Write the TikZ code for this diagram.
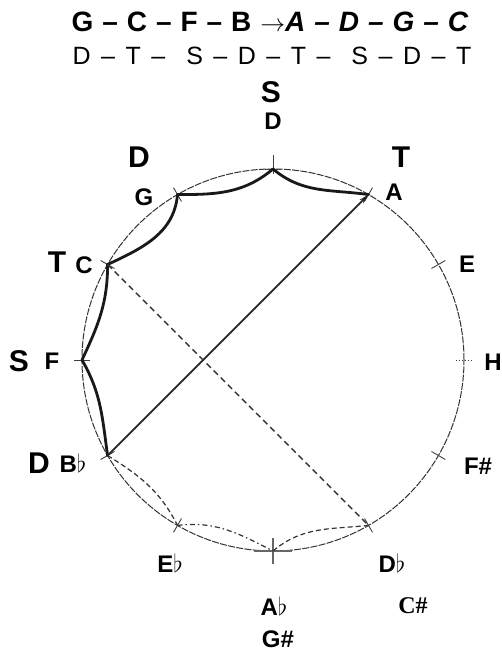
\documentclass[tikz,border=0pt]{standalone}
\usepackage{fontspec}
\setmainfont{Liberation Sans}
\newfontfamily\serifb{Liberation Serif}
\usetikzlibrary{arrows.meta,calc}
\tikzset{
  lbl/.style={font=\bfseries\fontsize{24}{24}\selectfont, inner sep=0pt},
  big/.style={font=\bfseries\fontsize{30}{30}\selectfont, inner sep=0pt},
  arcline/.style={line width=2.8pt, black!90, line cap=round},
  circ/.style={line width=1pt, black!80, dash pattern=on 7pt off 1.3pt},
  tick/.style={line width=0.9pt, black!75},
  dline/.style={line width=1.3pt, black!80, dash pattern=on 6pt off 4pt},
  dcurve/.style={line width=1.2pt, black!80, dash pattern=on 5pt off 3pt},
  ddcurve/.style={line width=1.2pt, black!80, dash pattern=on 5pt off 3pt on 1.5pt off 3pt},
}
\begin{document}
\begin{tikzpicture}[x=1pt,y=1pt]
\useasboundingbox (0,0) rectangle (501,652);
\coordinate (O) at (273,292);
\def\R{191}
\path (O) ++(90:\R) coordinate (D)
      (O) ++(60:\R) coordinate (A)
      (O) ++(30:\R) coordinate (E)
      (O) ++(0:\R) coordinate (H)
      (O) ++(-30:\R) coordinate (Fs)
      (O) ++(-60:\R) coordinate (Db)
      (O) ++(-90:\R) coordinate (Ab)
      (O) ++(-120:\R) coordinate (Eb)
      (O) ++(-150:\R) coordinate (Bb)
      (O) ++(180:\R) coordinate (F)
      (O) ++(150:\R) coordinate (C)
      (O) ++(120:\R) coordinate (G);
% circle
\draw[circ] (O) circle (\R);
% ticks
\foreach \a in {60,30,-30,-60,-120,-150,180,150,120}
  \draw[tick] ($(O)+(\a:\R-8)$) -- ($(O)+(\a:\R+8)$);
\draw[tick, dotted] ($(H)+(-8,0)$) -- ($(H)+(8,0)$);
\draw[tick] ($(D)+(0,-5)$) -- ($(D)+(0,14)$);
\draw[tick] ($(D)+(-8,0)$) -- ($(D)+(8,0)$);
\draw[line width=1.3pt, black!60] ($(Ab)+(-19,0)$) -- ($(Ab)+(19,0)$);
\draw[line width=1.3pt, black!60] ($(Ab)+(0,-13)$) -- ($(Ab)+(0,13)$);
% solid arcs
\draw[arcline] (D) to[out=-40,in=172] (A);
\draw[arcline] (D) to[out=-140,in=0] (G);
\draw[arcline] (G) to[out=-95,in=25] (C);
\draw[arcline] (C) to[out=-90,in=65] (F);
\draw[arcline] (F) to[out=-60,in=98] (Bb);
% dashed lower arcs
\draw[dcurve] (Bb) to[out=-32,in=117] (Eb);
\draw[ddcurve] (Eb) to[out=7,in=153] (Ab);
\draw[dcurve] (Ab) to[out=40,in=186] (Db);
% straight lines
\draw[line width=1.8pt, black!85, -{Stealth[length=10pt,width=5pt]}] (Bb) -- (A);
\draw[dline] (C) -- (Db);
% header
\node[inner sep=0pt] (h1) at (270,630) {\fontsize{28}{28}\selectfont\bfseries\spaceskip=0.32em G -- C -- F -- B $\rightarrow$\textit{A -- D -- G -- C}};
\node[inner sep=0pt] (h2) at (272,596) {\fontsize{25}{25}\selectfont\spaceskip=0.42em D -- T -- \ S -- D -- T -- \ S -- D -- T};
% labels
\node[big] (sTop) at (271,560) {S};
\node[lbl] (lD) at (273,531) {D};
\node[big] (dG) at (139,495) {D};
\node[lbl] (lG) at (144,455) {G};
\node[big] (tA) at (401,495) {T};
\node[lbl] (lA) at (394,460) {A};
\node[big] (tC) at (57,390) {T};
\node[lbl] (lC) at (84,387) {C};
\node[lbl] (lE) at (467,388) {E};
\node[big] (sF) at (19,291) {S};
\node[lbl] (lF) at (52,291) {F};
\node[lbl] (lH) at (493,290) {H};
\node[big] (dBb) at (39,189) {D};
\node[lbl] (lBb) at (73,189) {B$\flat$};
\node[lbl] (lFs) at (478,186) {F\#};
\node[lbl] (lEb) at (170,89) {E$\flat$};
\node[lbl] (lDb) at (392,89) {D$\flat$};
\node[lbl] (lAb) at (274,46) {A$\flat$};
\node[lbl, font=\serifb\bfseries\fontsize{24}{24}\selectfont] (lCs) at (413,46) {C\#};
\node[lbl] (lGs) at (278,13) {G\#};
\end{tikzpicture}
\end{document}
